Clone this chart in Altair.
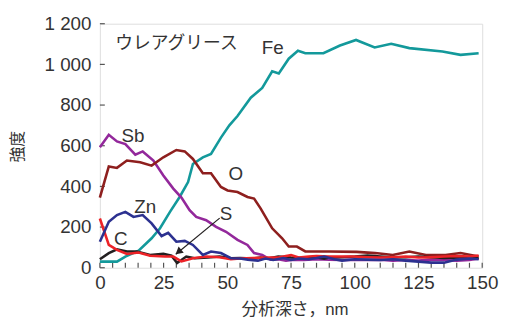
import altair as alt
import pandas as pd

# ---- data ----
fe_x = [0, 3.3, 6.7, 10, 15.2, 20.3, 23.6, 27.5, 31.3, 34.6, 36.5, 40.4, 43.6, 47.5, 50.8, 54, 59.2, 63.7, 67.6, 70.2, 74.1, 77.7, 80.6, 87.7, 94.2, 100.5, 107.8, 114.3, 121.4, 134.4, 141.5, 148.6]
fe_y = [30, 30, 30, 55, 84, 145, 194, 275, 348, 421, 510, 543, 560, 640, 700, 746, 836, 884, 966, 955, 1028, 1067, 1055, 1055, 1093, 1120, 1083, 1101, 1080, 1063, 1047, 1055]

sb_x = [0, 3.5, 6.7, 10, 13.9, 16.8, 21, 24.9, 28.8, 32, 35.2, 37.8, 41.7, 45.6, 49.5, 54, 57.9, 60.5, 63.7, 67, 70, 73, 76, 80, 85, 90, 95, 100, 105, 110, 115, 120, 125, 130, 135, 140, 145, 148.6]
sb_y = [592, 654, 621, 608, 556, 572, 527, 454, 389, 345, 283, 250, 234, 201, 177, 137, 112, 72, 63, 39, 42, 35, 40, 38, 42, 40, 38, 40, 38, 40, 35, 38, 35, 40, 38, 35, 38, 45]

o_x = [0, 3.5, 6.7, 10.6, 15.8, 20.3, 24.9, 30, 33.3, 36.5, 40.4, 43.6, 47.5, 50.1, 54, 57.9, 60.5, 63.1, 67.6, 71.5, 74.1, 77.3, 80.6, 90, 100.7, 108, 114.9, 121.4, 127.9, 135.6, 141.5, 148.6]
o_y = [345, 498, 491, 527, 519, 502, 543, 579, 572, 535, 465, 465, 397, 380, 372, 348, 340, 291, 194, 145, 104, 104, 80, 80, 78, 72, 63, 80, 63, 63, 72, 55]

zn_x = [0, 3.5, 6.7, 10, 13.2, 16.8, 20.3, 24.2, 26.8, 30, 33.3, 36.5, 40.4, 43.6, 47.5, 51.4, 55, 58, 62, 65, 68, 72, 75, 78, 82, 85, 88, 92, 95, 100, 105, 110, 115, 120, 125, 130, 135, 140, 145, 148.6]
zn_y = [128, 226, 259, 275, 250, 259, 218, 156, 172, 128, 132, 112, 63, 80, 72, 47, 45, 40, 35, 45, 38, 48, 38, 45, 42, 48, 55, 42, 35, 42, 40, 38, 42, 35, 30, 25, 25, 40, 45, 42]

c_x = [0, 3.5, 6.7, 10.6, 15.2, 19.7, 25.5, 28.8, 32, 36.5, 41.7, 46.9, 51.4, 55, 60, 65, 70, 73, 75, 78, 82, 85, 90, 95, 100, 105, 110, 115, 120, 125, 130, 135, 140, 145, 148.6]
c_y = [242, 112, 88, 68, 75, 59, 55, 55, 31, 47, 55, 52, 42, 45, 48, 50, 50, 58, 62, 50, 55, 58, 55, 55, 55, 52, 50, 52, 55, 50, 52, 55, 58, 55, 60]

s_x = [0, 3.5, 6.7, 10.6, 14.5, 19.7, 24.9, 28.1, 30.3, 33.9, 37.2, 42.4, 46.9, 51.4, 55, 60, 63, 66, 70, 75, 80, 85, 88, 90, 95, 100, 105, 110, 115, 120, 125, 130, 135, 140, 145, 148.6]
s_y = [42, 72, 91, 80, 80, 63, 68, 59, 23, 55, 47, 50, 55, 47, 48, 45, 50, 45, 55, 50, 48, 52, 45, 50, 52, 55, 60, 55, 50, 52, 55, 52, 48, 50, 45, 48]

series_names = ["Fe", "Sb", "O", "S", "C", "Zn"]
series_colors = ["#13999b", "#93289b", "#8e1f1e", "#231f20", "#ec2227", "#2c3190"]

label_text = ["ウレアグリース", "Fe", "Sb", "O", "Zn", "S", "C"]
label_x = [6.0, 63.5, 8.5, 50.5, 13.5, 47.0, 5.5]
label_y = [1098, 1078, 649, 459, 298, 263, 141]

arrow_x = [47.0, 29.8]
arrow_y = [244, 66]

x_ticks = list(range(0, 151, 5))
y_ticks = list(range(0, 1201, 200))

FONT = "Liberation Sans, Noto Sans CJK JP"
W, H = 387, 247

rows = []
for name, xs, ys in [("Fe", fe_x, fe_y), ("Sb", sb_x, sb_y), ("O", o_x, o_y),
                     ("S", s_x, s_y), ("C", c_x, c_y), ("Zn", zn_x, zn_y)]:
    for i, (a, b) in enumerate(zip(xs, ys)):
        rows.append({"series": name, "depth": a, "val": b, "order": i})
df = pd.DataFrame(rows)

xscale = alt.Scale(domain=[0, 150], nice=False, zero=False)
yscale = alt.Scale(domain=[0, 1200], nice=False)

lines = alt.Chart(df).mark_line(strokeWidth=2.6, strokeJoin="miter").encode(
    x=alt.X("depth:Q", scale=xscale,
            axis=alt.Axis(values=[0, 25, 50, 75, 100, 125, 150], title="分析深さ，nm",
                          labelFontSize=19, labelColor="#333", labelFont=FONT,
                          labelPadding=6, ticks=False, domain=False, grid=False,
                          titleFont=FONT, titleFontSize=17, titleFontWeight="normal",
                          titleColor="#333", titleX=197, titleY=42,
                          titleBaseline="middle", labelFlush=False)),
    y=alt.Y("val:Q", scale=yscale,
            axis=alt.Axis(values=y_ticks, title="強度",
                          labelExpr="replace(format(datum.value, ','), ',', ' ')",
                          labelFontSize=19, labelColor="#333", labelFont=FONT,
                          labelPadding=9, ticks=False, domain=False, grid=False,
                          titleFont=FONT, titleFontSize=16, titleFontWeight="normal",
                          titleColor="#333", titleX=-83, titleY=124, titleAngle=-90,
                          titleAlign="center", titleBaseline="middle")),
    color=alt.Color("series:N", scale=alt.Scale(domain=series_names, range=series_colors), legend=None),
    detail="series:N",
    order="order:Q",
)

lab_df = pd.DataFrame({"t": label_text, "x": label_x, "y": label_y})
labels_cjk = alt.Chart(lab_df.iloc[:1]).mark_text(align="left", baseline="middle", fontSize=18,
                                                  font=FONT, color="#333").encode(
    x=alt.X("x:Q", scale=xscale), y=alt.Y("y:Q", scale=yscale), text="t:N")
labels = alt.Chart(lab_df.iloc[1:]).mark_text(align="left", baseline="middle", fontSize=19,
                                              font=FONT, color="#333").encode(
    x=alt.X("x:Q", scale=xscale), y=alt.Y("y:Q", scale=yscale), text="t:N")

arr_df = pd.DataFrame({"x": [arrow_x[0]], "y": [arrow_y[0]], "x2": [arrow_x[1]], "y2": [arrow_y[1]]})
arrow_line = alt.Chart(arr_df).mark_rule(color="#231f20", strokeWidth=1.2).encode(
    x=alt.X("x:Q", scale=xscale), y=alt.Y("y:Q", scale=yscale), x2="x2:Q", y2="y2:Q")
head_df = pd.DataFrame({"x": [arrow_x[1] + 1.0], "y": [arrow_y[1] + 12]})
arrow_head = alt.Chart(head_df).mark_point(shape="triangle-up", filled=True, size=70, angle=231,
                                           color="#231f20", opacity=1).encode(
    x=alt.X("x:Q", scale=xscale), y=alt.Y("y:Q", scale=yscale))

xt_df = pd.DataFrame({"v": x_ticks})
xt = alt.Chart(xt_df).mark_rule(color="#555", strokeWidth=1.2).encode(
    x=alt.X("v:Q", scale=xscale), y=alt.value(H), y2=alt.value(H - 5))
yt_df = pd.DataFrame({"v": y_ticks})
yt = alt.Chart(yt_df).mark_rule(color="#555", strokeWidth=1.2).encode(
    y=alt.Y("v:Q", scale=yscale), x=alt.value(0), x2=alt.value(5))

chart = alt.layer(xt, yt, lines, arrow_line, arrow_head, labels_cjk, labels).properties(
    width=W, height=H,
    autosize=alt.AutoSizeParams(type="none"),
    padding={"left": 93, "top": 14, "right": 17, "bottom": 52},
).configure_view(stroke="#555", strokeWidth=1.6).configure(background="white")

chart.save("out.html", embed_options={"renderer": "svg", "actions": False})
